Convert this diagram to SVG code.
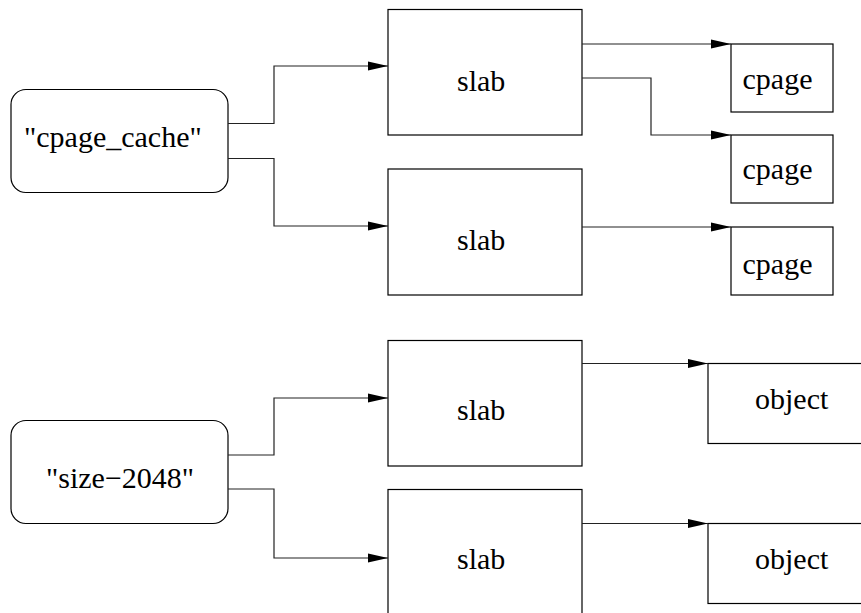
<svg xmlns="http://www.w3.org/2000/svg" width="861" height="613" viewBox="0 0 861 613">
  <style>
    .box { fill: #fff; stroke: #000; stroke-width: 1.2; }
    .lbl { font-size: 30px; fill: #000; }
    .wire { fill: none; stroke: #222; stroke-width: 1.2; marker-end: url(#head); }
  </style>
  <defs>
    <marker id="head" markerUnits="userSpaceOnUse" markerWidth="20" markerHeight="10" viewBox="0 0 20 10" refX="20" refY="5" orient="auto">
      <path d="M0,0.5 L20,5 L0,9.5 Z" fill="#000"/>
    </marker>
  </defs>

  <g font-family="'Liberation Serif', 'DejaVu Serif', serif">
  <g id="cache-cpage">
    <rect class="box" x="11" y="89.5" width="217" height="103" rx="15" ry="15"/>
    <text class="lbl" x="24" y="147">"cpage_cache"</text>
  </g>
  <g id="cache-size2048">
    <rect class="box" x="11" y="420.5" width="217" height="103" rx="15" ry="15"/>
    <text class="lbl" x="46" y="488">"size−2048"</text>
  </g>

  <g id="slab-1">
    <rect class="box" x="388" y="9.5" width="194" height="125.5"/>
    <text class="lbl" x="457" y="90.5">slab</text>
  </g>
  <g id="slab-2">
    <rect class="box" x="388" y="169" width="194" height="126"/>
    <text class="lbl" x="457" y="249.5">slab</text>
  </g>
  <g id="slab-3">
    <rect class="box" x="388" y="340.5" width="194" height="125.5"/>
    <text class="lbl" x="457" y="419.5">slab</text>
  </g>
  <g id="slab-4">
    <rect class="box" x="388" y="489.5" width="194" height="140"/>
    <text class="lbl" x="457" y="569">slab</text>
  </g>

  <g id="cpage-1">
    <rect class="box" x="731" y="44" width="102" height="68"/>
    <text class="lbl" x="742.5" y="88.5">cpage</text>
  </g>
  <g id="cpage-2">
    <rect class="box" x="731" y="135" width="102" height="68"/>
    <text class="lbl" x="742.5" y="178.5">cpage</text>
  </g>
  <g id="cpage-3">
    <rect class="box" x="731" y="227" width="102" height="68"/>
    <text class="lbl" x="742.5" y="273.5">cpage</text>
  </g>

  <g id="object-1">
    <rect class="box" x="708" y="363.5" width="170" height="80"/>
    <text class="lbl" x="755" y="409">object</text>
  </g>
  <g id="object-2">
    <rect class="box" x="708" y="523.5" width="170" height="80"/>
    <text class="lbl" x="755" y="568.5">object</text>
  </g>
  </g>

  <g id="connectors">
    <path class="wire" d="M228,123.5 H274 V66 H388"/>
    <path class="wire" d="M228,158.5 H274 V226 H388"/>
    <path class="wire" d="M582,44 H731"/>
    <path class="wire" d="M582,78 H651 V135 H731"/>
    <path class="wire" d="M582,227 H731"/>
    <path class="wire" d="M228,455 H274 V398 H388"/>
    <path class="wire" d="M228,489 H274 V558 H388"/>
    <path class="wire" d="M582,363.5 H708"/>
    <path class="wire" d="M582,523.5 H708"/>
  </g>
</svg>
